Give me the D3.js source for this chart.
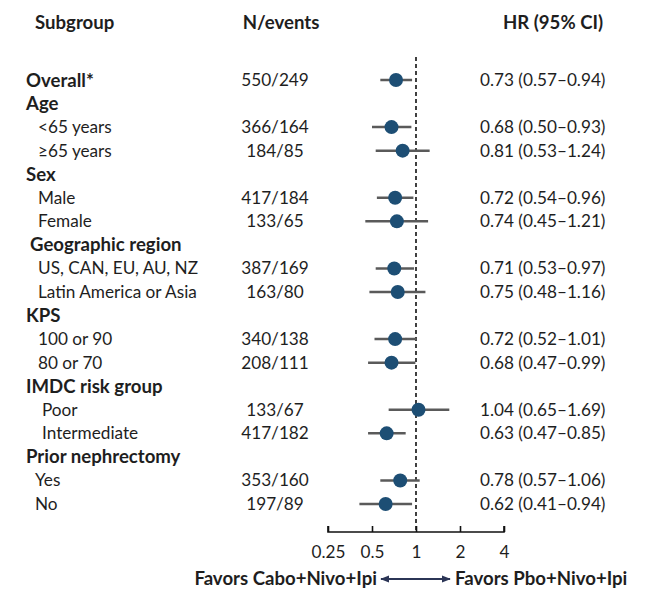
<!DOCTYPE html>
<html>
<head>
<meta charset="utf-8">
<script src="https://cdn.jsdelivr.net/npm/d3@7"></script>
<style>
  body { margin: 0; background: #fff; }
  svg text { font-family: Lato, "Liberation Sans", sans-serif; fill: #1e1e1e; }
</style>
</head>
<body>
<svg id="forest" width="653" height="592"></svg>
<script>
// rows, top to bottom
const subgroups = ['Overall*', 'Age', '<65 years', '≥65 years', 'Sex', 'Male', 'Female',
  'Geographic region', 'US, CAN, EU, AU, NZ', 'Latin America or Asia', 'KPS', '100 or 90', '80 or 70',
  'IMDC risk group', 'Poor', 'Intermediate', 'Prior nephrectomy', 'Yes', 'No'];
const rowKind = ['head', 'head', 'sub', 'sub', 'head', 'sub', 'sub',
  'geo', 'sub', 'sub', 'head', 'sub', 'sub',
  'head', 'imdc', 'imdc', 'head', 'neph', 'neph'];
const nEvents = ['550/249', '', '366/164', '184/85', '', '417/184', '133/65',
  '', '387/169', '163/80', '', '340/138', '208/111',
  '', '133/67', '417/182', '', '353/160', '197/89'];
const hr =    [0.73, null, 0.68, 0.81, null, 0.72, 0.74, null, 0.71, 0.75, null, 0.72, 0.68, null, 1.04, 0.63, null, 0.78, 0.62];
const lower = [0.57, null, 0.50, 0.53, null, 0.54, 0.45, null, 0.53, 0.48, null, 0.52, 0.47, null, 0.65, 0.47, null, 0.57, 0.41];
const upper = [0.94, null, 0.93, 1.24, null, 0.96, 1.21, null, 0.97, 1.16, null, 1.01, 0.99, null, 1.69, 0.85, null, 1.06, 0.94];
const xTicks = [0.25, 0.5, 1, 2, 4];
const favorLeft = 'Favors Cabo+Nivo+Ipi';
const favorRight = 'Favors Pbo+Nivo+Ipi';

const svg = d3.select('#forest');
const fs = 17.2;     // regular text
const fsBold = 18.6; // bold text
const indent = { head: 26, geo: 30, sub: 38, imdc: 42, neph: 35 };

const x = d3.scaleLog().base(2).domain([0.25, 4]).range([328, 504]);
const y = d3.scalePoint().domain(d3.range(subgroups.length)).range([80, 504]);
const axisY = 532;

// headers
const hdr = svg.append('g').attr('font-weight', 'bold').attr('font-size', fsBold);
hdr.append('text').attr('x', 35).attr('y', 22).attr('dy', '0.35em').text('Subgroup');
hdr.append('text').attr('x', 281).attr('y', 22).attr('dy', '0.35em').attr('text-anchor', 'middle').text('N/events');
hdr.append('text').attr('x', 553).attr('y', 22).attr('dy', '0.35em').attr('text-anchor', 'middle').text('HR (95% CI)');

const rows = svg.append('g').attr('font-size', fs);
rows.selectAll('.lab').data(subgroups).join('text')
  .attr('x', (d, i) => indent[rowKind[i]])
  .attr('y', (d, i) => y(i)).attr('dy', '0.35em')
  .attr('font-weight', (d, i) => (rowKind[i] === 'head' || rowKind[i] === 'geo') ? 'bold' : null)
  .attr('font-size', (d, i) => (rowKind[i] === 'head' || rowKind[i] === 'geo') ? fsBold : null)
  .text(d => d);

rows.selectAll('.n').data(nEvents).join('text')
  .attr('x', 275).attr('y', (d, i) => y(i)).attr('dy', '0.35em')
  .attr('text-anchor', 'middle').text(d => d);

rows.selectAll('.hr').data(hr).join('text')
  .attr('x', 480).attr('y', (d, i) => y(i)).attr('dy', '0.35em')
  .text((d, i) => d == null ? '' : `${d.toFixed(2)} (${lower[i].toFixed(2)}–${upper[i].toFixed(2)})`);

// reference line at HR = 1
svg.append('line')
  .attr('x1', x(1)).attr('x2', x(1)).attr('y1', 57).attr('y2', axisY)
  .attr('stroke', '#111').attr('stroke-width', 1.6).attr('stroke-dasharray', '4,3');

const pts = d3.range(hr.length).filter(i => hr[i] != null);
svg.append('g').selectAll('line').data(pts).join('line')
  .attr('x1', i => x(lower[i])).attr('x2', i => x(upper[i]))
  .attr('y1', i => y(i)).attr('y2', i => y(i))
  .attr('stroke', '#5a5a5a').attr('stroke-width', 2.5);
svg.append('g').selectAll('circle').data(pts).join('circle')
  .attr('cx', i => x(hr[i])).attr('cy', i => y(i)).attr('r', 7)
  .attr('fill', '#1d4e74');

// x axis
const ax = svg.append('g').attr('transform', `translate(0,${axisY})`)
  .call(d3.axisTop(x).tickValues(xTicks).tickSize(6).tickFormat(d3.format('')));
ax.select('.domain').attr('stroke', '#111').attr('stroke-width', 1.6).attr('d', `M${x(0.25)},-6V0H${x(4)}V-6`);
ax.selectAll('.tick line').attr('stroke', '#111').attr('stroke-width', 1.6);
ax.selectAll('.tick text').attr('y', 20).attr('dy', '0.35em')
  .attr('font-size', fs).attr('font-family', null).attr('fill', '#1e1e1e');

// favours labels and arrow
const fav = svg.append('g').attr('font-size', fsBold).attr('font-weight', 'bold');
fav.append('text').attr('x', 377).attr('y', 578).attr('dy', '0.35em').attr('text-anchor', 'end').text(favorLeft);
fav.append('text').attr('x', 455).attr('y', 578).attr('dy', '0.35em').text(favorRight);

svg.append('defs').append('marker')
  .attr('id', 'ah').attr('viewBox', '0 0 10 10').attr('refX', 9).attr('refY', 5)
  .attr('markerWidth', 9).attr('markerHeight', 9).attr('markerUnits', 'userSpaceOnUse')
  .attr('orient', 'auto-start-reverse')
  .append('path').attr('d', 'M0,1L10,5L0,9Z').attr('fill', '#2b3556');
svg.append('line').attr('x1', 381).attr('x2', 450).attr('y1', 579).attr('y2', 579)
  .attr('stroke', '#2b3556').attr('stroke-width', 2)
  .attr('marker-start', 'url(#ah)').attr('marker-end', 'url(#ah)');
</script>
</body>
</html>
